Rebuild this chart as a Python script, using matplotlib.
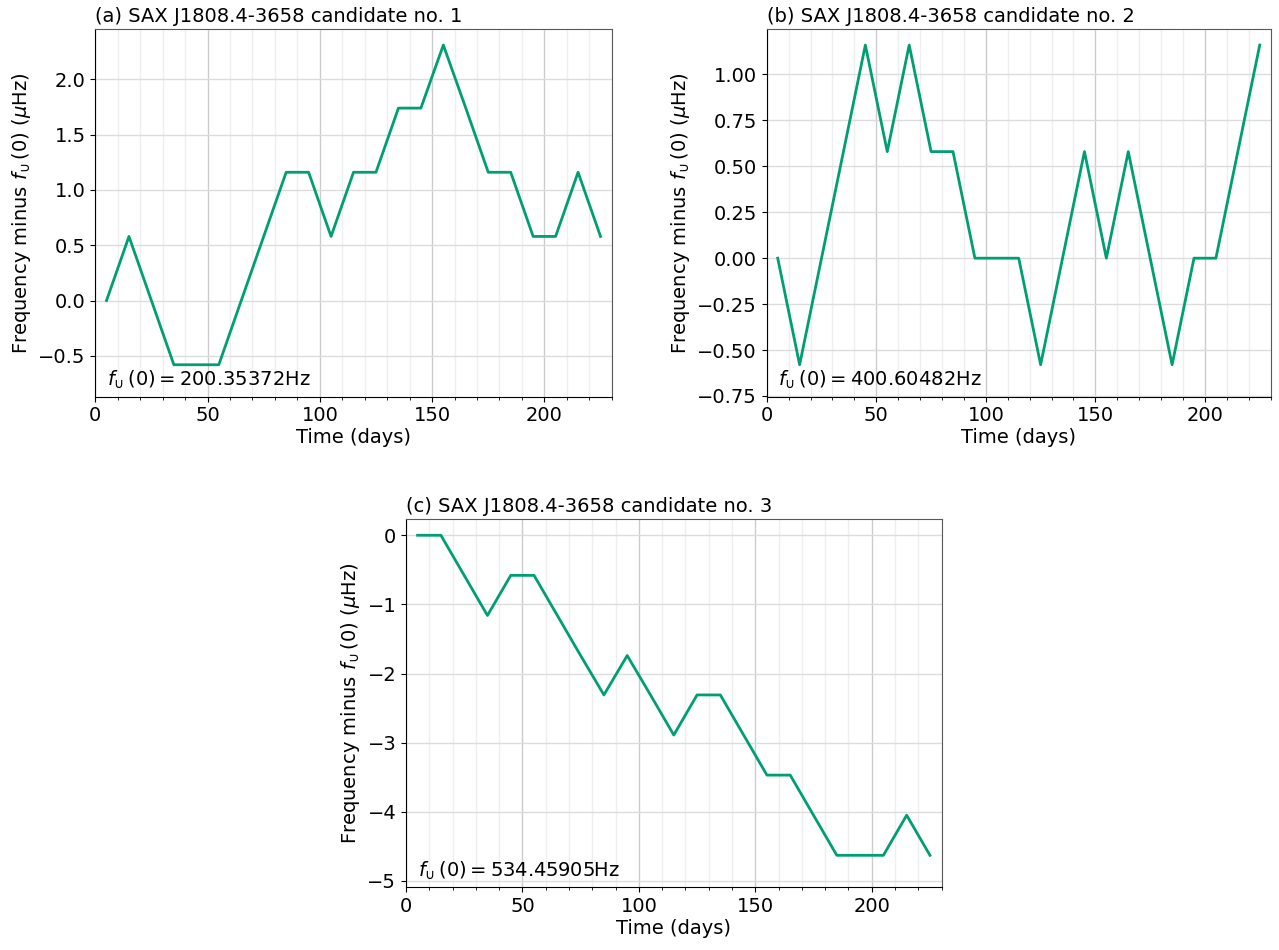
import numpy as np
import matplotlib
matplotlib.use("Agg")
import matplotlib.pyplot as plt
from matplotlib.ticker import MultipleLocator

# time of each point (days)
days = [5, 15, 25, 35, 45, 55, 65, 75, 85, 95, 105, 115,
        125, 135, 145, 155, 165, 175, 185, 195, 205, 215, 225]

# frequency minus f(0), micro Hz
cand1 = [0, 0.58, 0, -0.58, -0.58, -0.58, 0, 0.58, 1.16, 1.16, 0.58, 1.16,
         1.16, 1.74, 1.74, 2.31, 1.74, 1.16, 1.16, 0.58, 0.58, 1.16, 0.58]
cand2 = [0, -0.58, 0, 0.58, 1.16, 0.58, 1.16, 0.58, 0.58, 0, 0, 0,
         -0.58, 0, 0.58, 0, 0.58, 0, -0.58, 0, 0, 0.58, 1.16]
cand3 = [0, 0, -0.58, -1.16, -0.58, -0.58, -1.16, -1.74, -2.31, -1.74, -2.31, -2.89,
         -2.31, -2.31, -2.89, -3.47, -3.47, -4.05, -4.63, -4.63, -4.63, -4.05, -4.63]

titles = ["(a) SAX J1808.4-3658 candidate no. 1",
          "(b) SAX J1808.4-3658 candidate no. 2",
          "(c) SAX J1808.4-3658 candidate no. 3"]
f0 = ["200.35372", "400.60482", "534.45905"]

fig = plt.figure(figsize=(12.79, 9.5), dpi=100)
rects = [[0.0745, 0.5824, 0.4038, 0.387],
         [0.5995, 0.5824, 0.394, 0.387],
         [0.3174, 0.066, 0.4188, 0.3874]]

for rect, y, title, f in zip(rects, [cand1, cand2, cand3], titles, f0):
    ax = fig.add_axes(rect)
    ax.plot(days, y, color="#009E73", lw=2)
    lo, hi = min(y), max(y)
    rng = hi - lo
    ax.set_ylim(lo - 0.1 * rng, hi + 0.05 * rng)
    ax.set_xlim(0, 230)
    ax.xaxis.set_minor_locator(MultipleLocator(10))
    ax.grid(which="major", axis="x", color="#cccccc", lw=1)
    ax.grid(which="major", axis="y", color="#dcdcdc", lw=1)
    ax.grid(which="minor", axis="x", color="#efefef", lw=1)
    ax.set_axisbelow(True)
    for s in ["top", "right"]:
        ax.spines[s].set_color("0.35")
    ax.tick_params(labelsize=14)
    ax.tick_params(which="minor", length=2.5)
    ax.set_title(title, loc="left", fontsize=14, pad=5)
    ax.set_xlabel("Time (days)", fontsize=14, labelpad=2)
    ax.set_ylabel(r"Frequency minus $f_{\cup}\,(0)$ ($\mu$Hz)", fontsize=14)
    ax.text(0.022, 0.015, r"$f_{\cup}\,(0) = $" + f + "Hz", transform=ax.transAxes,
            fontsize=14, va="bottom", ha="left")

fig.savefig("out.png", dpi=100)
